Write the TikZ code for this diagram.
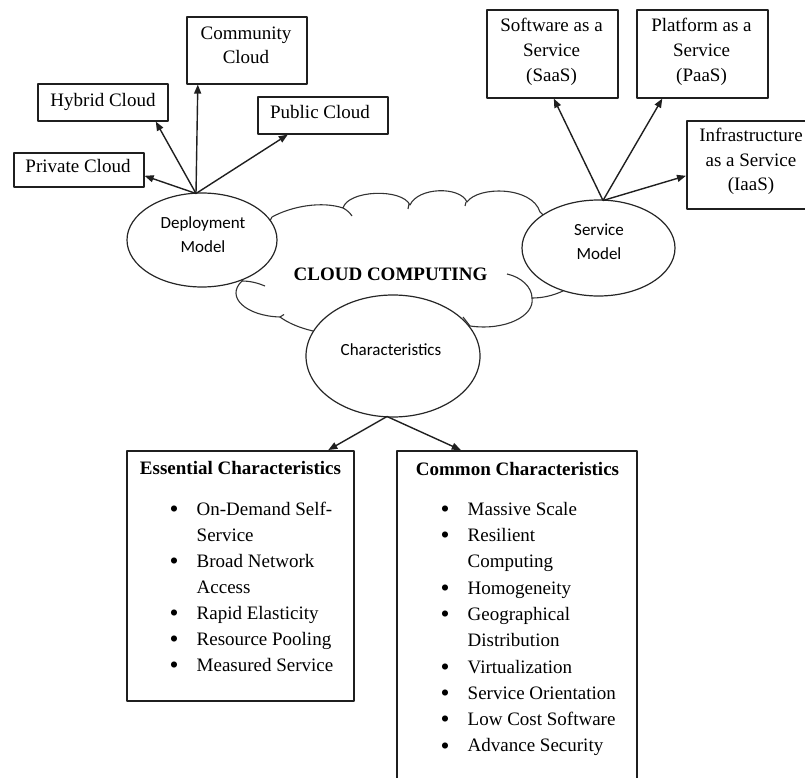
\documentclass[tikz,border=0pt]{standalone}
\usepackage{fontspec}
\usepackage{graphicx}
\setmainfont{Liberation Serif}
\newfontfamily\calfont{Carlito}
\usetikzlibrary{shapes.geometric,arrows.meta,calc}
\newcommand{\mlines}[1]{\begin{tabular}{@{}c@{}}#1\end{tabular}}
\newcommand{\bu}{\makebox[26.5pt][l]{\hspace*{-0.6pt}\raisebox{-2.2pt}{\scalebox{1.35}{\textbullet}}}}
\newcommand{\ind}{\hspace*{26.5pt}}
\begin{document}
\begin{tikzpicture}[x=1pt,y=-1pt,line join=round,
  box/.style={draw=black!88, line width=1.6pt, inner sep=0pt, anchor=north west},
  ell/.style={ellipse, draw=black!85, line width=1.2pt, fill=white, inner sep=0pt},
  cloudline/.style={draw=black!80, line width=1.1pt},
  arr/.style={draw=black!88, line width=1.4pt, -{Triangle[length=9pt,width=7pt]}},
  serif/.style={inner sep=0pt, font=\fontsize{19}{25}\selectfont},
  sans/.style={inner sep=0pt, font=\calfont\fontsize{17}{24}\selectfont},
  list/.style={inner sep=0pt, anchor=north west}]
\useasboundingbox (0,0) rectangle (805,778);

% cloud
\path[cloudline, fill=white]
 (272,217) .. controls (292,206) and (322,201) .. (343,208)
 .. controls (348,190) and (402,188) .. (410,205)
 .. controls (418,187) and (460,186) .. (467,202)
 .. controls (478,186) and (532,186) .. (540,212)
 -- (560,230) -- (575,270) -- (563,291)
 .. controls (552,296) and (542,298) .. (532,298)
 .. controls (535,316) and (505,331) .. (470,326)
 -- (440,340) -- (340,340) -- (313,331)
 .. controls (300,328) and (288,323) .. (280,317)
 .. controls (246,316) and (225,297) .. (242,281)
 -- (250,260) -- (265,230) -- cycle;
\draw[cloudline] (343,208) .. controls (347,210) and (350,213) .. (352,216);
\draw[cloudline] (409,204) .. controls (408.5,206) .. (408,209);
\draw[cloudline] (466,202) .. controls (465.5,204) .. (465,206);
\draw[cloudline] (242,281) .. controls (250,281) and (258,283) .. (265,286);
\draw[cloudline] (280,317) .. controls (282,316) .. (284,314.5);
\draw[cloudline] (507,274) .. controls (521,277) and (532,287) .. (532,298);
\draw[cloudline] (470,326) .. controls (467,322) .. (463,317);

\node[serif, font=\bfseries\fontsize{19}{25}\selectfont, anchor=base] (cc) at (390.5,280) {CLOUD COMPUTING};

% ellipses
\node[ell, minimum width=150, minimum height=94] (dep) at (202,240) {};
\node[ell, minimum width=153, minimum height=96] (srv) at (598.5,248) {};
\node[ell, minimum width=174, minimum height=122] (chr) at (393,356) {};
\node[sans, anchor=north] (depT) at (203,211) {\mlines{Deployment\\Model}};
\node[sans, anchor=north] (srvT) at (599,218.7) {\mlines{Service\\Model}};
\node[sans, anchor=base] (chrT) at (391,355.5) {Characteristics};

% deployment boxes
\node[box, minimum width=130, minimum height=34] (priv) at (13,152) {};
\node[box, minimum width=130, minimum height=37] (hyb) at (37,83) {};
\node[box, minimum width=120, minimum height=67] (comm) at (186,16) {};
\node[box, minimum width=130, minimum height=37] (pub) at (257,96) {};
\node[serif, anchor=base] (privT) at (78,173) {Private Cloud};
\node[serif, anchor=base] (hybT) at (103,107) {Hybrid Cloud};
\node[serif, font=\fontsize{19}{24}\selectfont, anchor=north] (commT) at (246,22.5) {\mlines{Community\\Cloud}};
\node[serif, anchor=base] (pubT) at (320,119) {Public Cloud};

% service boxes
\node[box, minimum width=131, minimum height=88] (saas) at (486,9) {};
\node[box, minimum width=131, minimum height=88] (paas) at (636,9) {};
\node[box, minimum width=132, minimum height=88] (iaas) at (686,120) {};
\node[serif, anchor=north] (saasT) at (551.5,13.5) {\mlines{Software as a\\Service\\(SaaS)}};
\node[serif, anchor=north] (paasT) at (701.5,13.5) {\mlines{Platform as a\\Service\\(PaaS)}};
\node[serif, font=\fontsize{19}{24.5}\selectfont, anchor=north] (iaasT) at (751,124.6) {\mlines{Infrastructure\\as a Service\\(IaaS)}};

% characteristic boxes
\node[box, minimum width=227, minimum height=250] (ess) at (126,450) {};
\node[box, minimum width=240, minimum height=345] (com) at (396,450) {};
\node[serif, font=\bfseries\fontsize{19}{25}\selectfont, anchor=base] (essH) at (240.5,474.5) {Essential Characteristics};
\node[serif, font=\bfseries\fontsize{19}{25}\selectfont, anchor=base] (comH) at (517.5,475) {Common Characteristics};
\node[list, font=\fontsize{19}{26}\selectfont] (essL) at (170,496.8) {\begin{tabular}{@{}l@{}}
\bu On-Demand Self-\\
\ind Service\\
\bu Broad Network\\
\ind Access\\
\bu Rapid Elasticity\\
\bu Resource Pooling\\
\bu Measured Service
\end{tabular}};
\node[list, font=\fontsize{19}{26.3}\selectfont] (comL) at (441,496.6) {\begin{tabular}{@{}l@{}}
\bu Massive Scale\\
\bu Resilient\\
\ind Computing\\
\bu Homogeneity\\
\bu Geographical\\
\ind Distribution\\
\bu Virtualization\\
\bu Service Orientation\\
\bu Low Cost Software\\
\bu Advance Security
\end{tabular}};

% connectors
\coordinate (depTop) at (196,193.5);
\coordinate (srvTop) at (603,200.5);
\coordinate (chrBot) at (387,416.5);
\draw[arr] (depTop) -- ($(priv.east)+(0,6)$);
\draw[arr] (depTop) -- ($(hyb.south)+(53,0)$);
\draw[arr] (depTop) -- ($(comm.south)+(-49,0)$);
\draw[arr] (depTop) -- ($(pub.south)+(-35,0)$);
\draw[arr] (srvTop) -- ($(saas.south)+(1.5,0)$);
\draw[arr] (srvTop) -- ($(paas.south)+(-40,0)$);
\draw[arr] (srvTop) -- ($(iaas.west)+(0,11)$);
\draw[arr] (chrBot) -- ($(ess.north)+(88,0)$);
\draw[arr] (chrBot) -- ($(com.north)+(-56,0)$);
\end{tikzpicture}
\end{document}
